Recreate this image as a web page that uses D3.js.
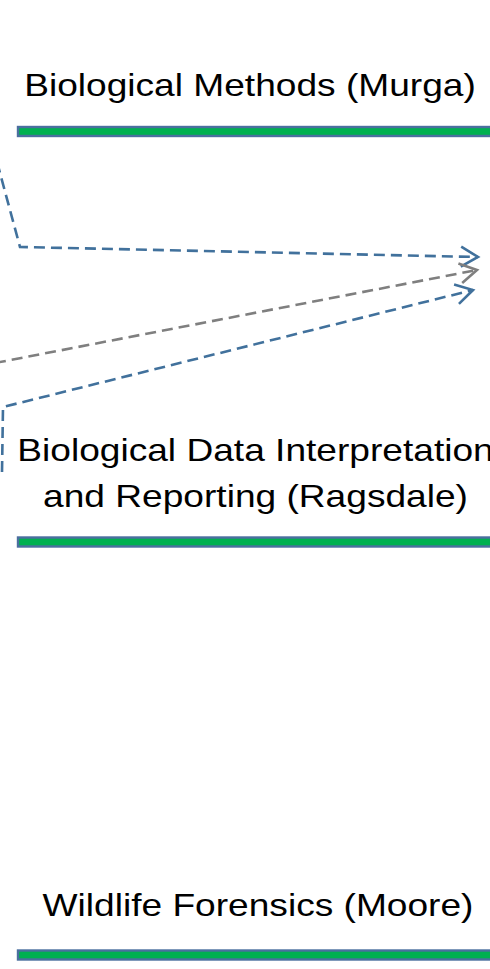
<!DOCTYPE html>
<html>
<head>
<meta charset="utf-8">
<script src="https://cdn.jsdelivr.net/npm/d3@7"></script>
<style>
  html, body { margin: 0; padding: 0; background: #fff; }
  svg { display: block; }
</style>
</head>
<body>
<div id="chart"></div>
<script>
// Course boxes (text lines) and the row each sits on, in diagram units
const boxLabels = [
  ["Biological Methods (Murga)"],
  ["Biological Data Interpretation", "and Reporting (Ragsdale)"],
  ["Wildlife Forensics (Moore)"]
];
const boxBaselines = [96, 461, 916];   // first text baseline
const boxBars = [131.5, 542, 955];     // bar centre line
const boxCentres = [250, 255.5, 258];

// Dashed prerequisite connectors (points in diagram units)
const linkNames = ["blue-upper", "grey", "blue-lower"];
const linkKinds = ["blue", "grey", "blue"];
const linkPoints = [
  [[-3, 162], [20, 247], [478, 257]],
  [[-5, 363], [477, 270]],
  [[2, 472], [3, 407], [473, 290]]
];

const W = 490, H = 969;
const x = d3.scaleLinear().domain([0, 490]).range([0, W]);
const y = d3.scaleLinear().domain([0, 969]).range([0, H]);
const colour = d3.scaleOrdinal().domain(["blue", "grey"]).range(["#41719c", "#7f7f7f"]);

const svg = d3.select("#chart").append("svg")
  .attr("width", W)
  .attr("height", H)
  .attr("viewBox", "0 0 " + W + " " + H);

// bars under each box label
svg.selectAll("rect.bar")
  .data(boxBars)
  .enter().append("rect")
  .attr("class", "bar")
  .attr("x", x(18))
  .attr("y", d => y(d) - 4.5)
  .attr("width", W)
  .attr("height", 9)
  .attr("fill", "#00b050")
  .attr("stroke", "#4a6f9f")
  .attr("stroke-width", 2.4);

// labels, slightly wider than tall like the source slide
const labels = svg.selectAll("g.label")
  .data(boxLabels)
  .enter().append("g")
  .attr("class", "label")
  .attr("transform", (d, i) => "translate(" + x(boxCentres[i]) + "," + y(boxBaselines[i]) + ") scale(1.16,1)");

labels.selectAll("text")
  .data(d => d)
  .enter().append("text")
  .attr("x", 0)
  .attr("y", (d, i) => i * 46)
  .attr("text-anchor", "middle")
  .attr("font-family", "Liberation Sans, Arial, sans-serif")
  .attr("font-size", 32)
  .attr("fill", "#000")
  .text(d => d);

// connectors
const line = d3.line().x(p => x(p[0])).y(p => y(p[1]));

svg.selectAll("path.link")
  .data(linkPoints)
  .enter().append("path")
  .attr("class", (d, i) => "link " + linkNames[i])
  .attr("d", line)
  .attr("fill", "none")
  .attr("stroke", (d, i) => colour(linkKinds[i]))
  .attr("stroke-width", 2.6)
  .attr("stroke-dasharray", "11,6");

// open chevron arrowheads at the end of each connector
function chevron(pts) {
  var a = pts[pts.length - 2], b = pts[pts.length - 1];
  var ang = Math.atan2(y(b[1]) - y(a[1]), x(b[0]) - x(a[0]));
  var len = 17, half = 10;
  var tx = x(b[0]), ty = y(b[1]);
  var bx = tx - len * Math.cos(ang), by = ty - len * Math.sin(ang);
  var nx = -Math.sin(ang) * half, ny = Math.cos(ang) * half;
  return [[bx + nx, by + ny], [tx, ty], [bx - nx, by - ny]];
}

svg.selectAll("path.head")
  .data(linkPoints)
  .enter().append("path")
  .attr("class", "head")
  .attr("d", d => d3.line()(chevron(d)))
  .attr("fill", "none")
  .attr("stroke", (d, i) => colour(linkKinds[i]))
  .attr("stroke-width", 2.6)
  .attr("stroke-linejoin", "miter");
</script>
</body>
</html>
